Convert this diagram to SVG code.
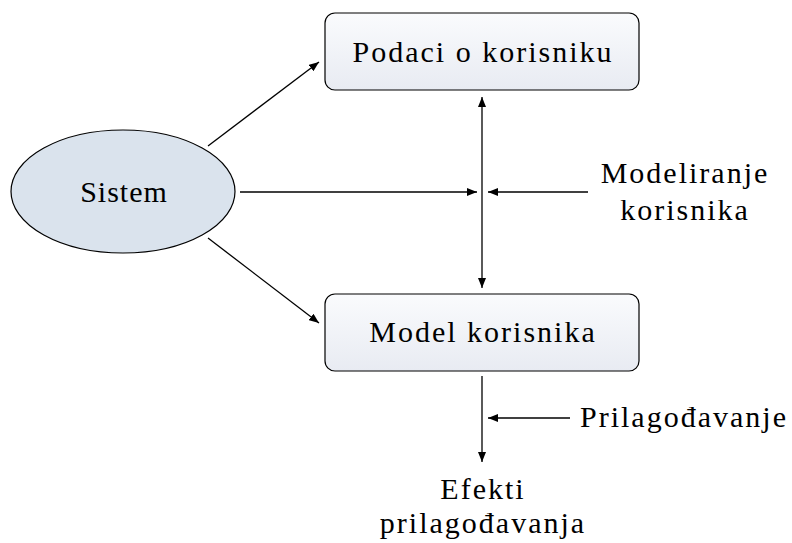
<svg xmlns="http://www.w3.org/2000/svg" width="792" height="543" viewBox="0 0 792 543">
  <style>
    .box { stroke: #000; stroke-width: 1.2; fill: url(#boxFill); }
    .ell { stroke: #000; stroke-width: 1.2; fill: #dae3ed; }
    .conn { stroke: #000; stroke-width: 1.3; fill: none; }
  </style>
  <defs>
    <linearGradient id="boxFill" x1="0" y1="0" x2="0" y2="1">
      <stop offset="0" stop-color="#fafbfd"/>
      <stop offset="1" stop-color="#e8ebf2"/>
    </linearGradient>
    <marker id="arrow" viewBox="0 0 10 8" refX="10" refY="4" markerWidth="10" markerHeight="8" markerUnits="userSpaceOnUse" orient="auto">
      <path d="M0,0 L10,4 L0,8 Z" fill="#000"/>
    </marker>
  </defs>

  <g id="sistem">
    <ellipse class="ell" cx="123" cy="191.5" rx="112" ry="61.5"/>
    <text x="124" y="202" font-family="Liberation Serif" font-size="30" text-anchor="middle" letter-spacing="1">Sistem</text>
  </g>

  <g id="podaci">
    <rect class="box" x="325" y="13" width="314" height="77" rx="10" ry="10"/>
    <text x="483" y="62" font-family="Liberation Serif" font-size="30" text-anchor="middle" letter-spacing="2">Podaci o korisniku</text>
  </g>

  <g id="model">
    <rect class="box" x="325" y="294" width="314" height="77" rx="10" ry="10"/>
    <text x="483" y="342" font-family="Liberation Serif" font-size="30" text-anchor="middle" letter-spacing="2">Model korisnika</text>
  </g>

  <g id="modeliranje">
    <text x="685" y="183" font-family="Liberation Serif" font-size="30" text-anchor="middle" letter-spacing="2">Modeliranje</text>
    <text x="685" y="220" font-family="Liberation Serif" font-size="30" text-anchor="middle" letter-spacing="2">korisnika</text>
  </g>

  <g id="prilagodjavanje">
    <text x="580" y="427" font-family="Liberation Serif" font-size="30" letter-spacing="2">Prilagođavanje</text>
  </g>

  <g id="efekti">
    <text x="483" y="499" font-family="Liberation Serif" font-size="30" text-anchor="middle" letter-spacing="2">Efekti</text>
    <text x="483" y="533" font-family="Liberation Serif" font-size="30" text-anchor="middle" letter-spacing="2">prilagođavanja</text>
  </g>

  <!-- connectors -->
  <g id="connectors">
    <line class="conn" x1="208" y1="146" x2="319" y2="62" marker-end="url(#arrow)"/>
    <line class="conn" x1="208" y1="238" x2="319" y2="323" marker-end="url(#arrow)"/>
    <line class="conn" x1="240" y1="192" x2="477" y2="192" marker-end="url(#arrow)"/>
    <line class="conn" x1="588" y1="192" x2="488" y2="192" marker-end="url(#arrow)"/>
    <line class="conn" x1="482" y1="192" x2="482" y2="97" marker-end="url(#arrow)"/>
    <line class="conn" x1="482" y1="192" x2="482" y2="288" marker-end="url(#arrow)"/>
    <line class="conn" x1="482" y1="376" x2="482" y2="462" marker-end="url(#arrow)"/>
    <line class="conn" x1="570" y1="418" x2="488" y2="418" marker-end="url(#arrow)"/>
  </g>
</svg>
